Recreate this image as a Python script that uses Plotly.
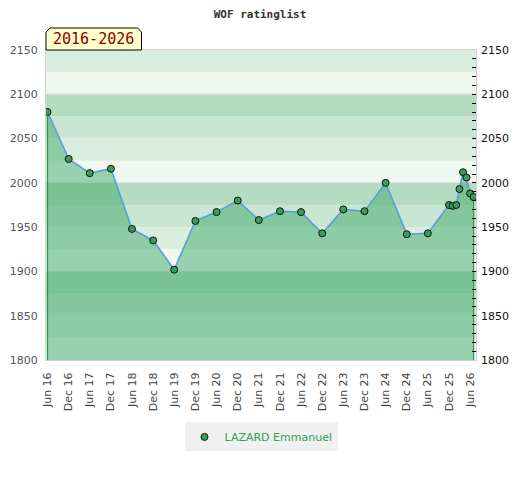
import plotly.graph_objects as go

dates = ["2016-06-01", "2016-12-01", "2017-06-01", "2017-12-01", "2018-06-01", "2018-12-01",
         "2019-06-01", "2019-12-01", "2020-06-01", "2020-12-01", "2021-06-01", "2021-12-01",
         "2022-06-01", "2022-12-01", "2023-06-01", "2023-12-01", "2024-06-01", "2024-12-01",
         "2025-06-01", "2025-12-01", "2026-01-01", "2026-02-01", "2026-03-01", "2026-04-01",
         "2026-05-01", "2026-06-01", "2026-07-01"]
ratings = [2080, 2027, 2011, 2016, 1948, 1935, 1902, 1957, 1967, 1980, 1958, 1968,
           1967, 1943, 1970, 1968, 2000, 1942, 1943, 1975, 1974, 1975, 1993, 2012,
           2006, 1988, 1984]
player = "LAZARD Emmanuel"
title_text = "WOF ratinglist"
period_label = "2016-2026"
y_min, y_max = 1800, 2150

fig = go.Figure()

# area fill
fig.add_trace(go.Scatter(x=dates, y=ratings, mode="lines", fill="tozeroy",
                         fillcolor="rgba(55,165,95,0.47)", line=dict(width=0, color="rgba(0,0,0,0)"),
                         showlegend=False, hoverinfo="skip"))
# area edges
fig.add_trace(go.Scatter(x=[dates[0], dates[0], None, dates[-1], dates[-1]],
                         y=[y_min, ratings[0], None, y_min, ratings[-1]],
                         mode="lines", line=dict(color="#2e9150", width=1.2),
                         showlegend=False, hoverinfo="skip", yaxis="y2"))
# line
fig.add_trace(go.Scatter(x=dates, y=ratings, mode="lines",
                         line=dict(color="#5a9fd6", width=1.6),
                         showlegend=False, hoverinfo="skip"))
# markers
fig.add_trace(go.Scatter(x=dates, y=ratings, mode="markers", name=player,
                         marker=dict(size=7, color="#3a9d5d", line=dict(color="#111", width=1))))

band_colors = ["#eff7f1", "#daeee0", "#c9e5d3", "#b3dcc1"]
shapes = []
for i, lo in enumerate(range(y_min, y_max, 25)):
    shapes.append(dict(type="rect", xref="paper", x0=0, x1=1, yref="y", y0=lo, y1=lo + 25,
                       fillcolor=band_colors[i % 4], line=dict(width=0), layer="below"))
for g in range(1900, 2150, 100):
    shapes.append(dict(type="line", xref="paper", x0=0, x1=1, yref="y", y0=g, y1=g,
                       line=dict(color="#d6d6d6", width=1), layer="below"))
# label box with chamfered top corners
shapes.append(dict(type="path", xref="paper", yref="paper",
                   path="M 0,1 L 0,1.058 L 0.009,1.071 L 0.213,1.071 L 0.222,1.058 L 0.222,1 Z",
                   fillcolor="#ffffcc", line=dict(color="#000", width=1), layer="above"))

fig.update_layout(
    width=520, height=480,
    margin=dict(l=45.5, r=44, t=50, b=120, autoexpand=False),
    paper_bgcolor="white", plot_bgcolor="white",
    title=dict(text="<b>" + title_text + "</b>", x=0.5, xanchor="center", y=0.971, yanchor="middle",
               font=dict(family="DejaVu Sans Mono", size=11, color="#333")),
    xaxis=dict(type="date", range=["2016-05-19", "2026-07-22"], dtick="M6", tick0="2016-06-01",
               tickformat="%b %y", tickangle=-90, tickfont=dict(family="DejaVu Sans", size=11, color="#444"),
               showgrid=False, zeroline=False, showline=True, linecolor="#d0d0d0", mirror=True, ticks="",
               automargin=False, ticklabelstandoff=7),
    yaxis=dict(range=[y_min, y_max], dtick=50, tick0=1800, showgrid=False, zeroline=False,
               tickfont=dict(family="DejaVu Sans", size=11, color="#555"),
               showline=True, linecolor="#d0d0d0", mirror=True, ticks="", automargin=False,
               ticklabelstandoff=5),
    yaxis2=dict(range=[y_min, y_max], dtick=50, tick0=1800, overlaying="y", side="right",
                showgrid=False, zeroline=False, tickfont=dict(family="DejaVu Sans", size=11, color="#111"),
                ticks="inside", ticklen=4, tickcolor="#000", automargin=False, ticklabelstandoff=4,
                minor=dict(dtick=10, ticks="inside", ticklen=4, tickcolor="#000")),
    shapes=shapes,
    annotations=[dict(text=period_label, xref="paper", yref="paper", x=0.111, y=1.036,
                      xanchor="center", yanchor="middle", showarrow=False,
                      font=dict(family="DejaVu Sans Mono", size=15, color="#8b0000"))],
    legend=dict(orientation="h", x=0.5, xanchor="center", y=-0.248, yanchor="middle",
                bgcolor="#f0f0f0", itemwidth=30,
                font=dict(family="DejaVu Sans", size=11, color="#2ea05a")),
    showlegend=True,
)

fig.write_html("out.html", config={"displayModeBar": False},
               post_script="document.body.style.margin='0px';")
